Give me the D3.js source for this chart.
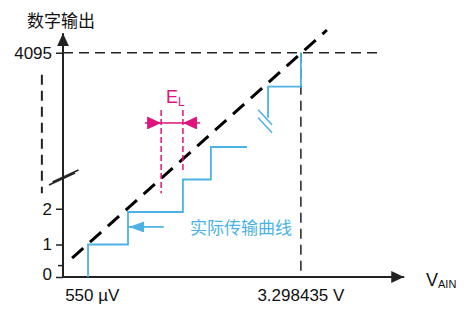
<!DOCTYPE html>
<html>
<head>
<meta charset="utf-8">
<script src="https://cdn.jsdelivr.net/npm/d3@7"></script>
<style>
  body { margin: 0; background: #fff; }
  text { font-family: "Liberation Sans", Arial, "Noto Sans CJK SC", sans-serif; }
</style>
</head>
<body>
<div id="chart"></div>
<script>
// schematic units: x in "input steps", y in "displayed code position"
var yTicks = [0, 1, 2.1, 6.9];
var yTickLabels = ["0", "1", "2", "4095"];
var yMinorTicks = [0.35];
var xTicks = [0.9, 7.32];
var xTickLabels = ["550 µV", "3.298435 V"];

// actual transfer curve, lower part and upper part (broken)
var stairLow = [[0.77, 0], [0.77, 1], [2.0, 1], [2.0, 2], [3.69, 2], [3.69, 3], [4.55, 3], [4.55, 4], [5.66, 4]];
var stairHigh = [[6.31, 4.9], [6.31, 5.86], [7.32, 5.86], [7.32, 6.9]];
// ideal line
var ideal = [[0.28, 0.58], [8.12, 7.6]];
// full scale point
var fullScale = [7.32, 6.9];
// E_L markers
var elX = [3.02, 3.69];
var elBottom = [2.58, 3.2];
// annotation arrow
var callout = [[3.1, 1.54], [2.03, 1.54]];

var width = 475, height = 322;
var svg = d3.select("#chart").append("svg")
  .attr("width", width)
  .attr("height", height);

var x = d3.scaleLinear().domain([0, 10.5]).range([63, 404.25]);
var y = d3.scaleLinear().domain([0, 7.5]).range([277, 33.25]);

var blue = "#4ab3e4";
var pink = "#df127e";
var dark = "#222";

var defs = svg.append("defs");
function marker(id, color, w, h) {
  defs.append("marker")
    .attr("id", id)
    .attr("viewBox", "0 0 " + w + " " + h)
    .attr("refX", w).attr("refY", h / 2)
    .attr("markerWidth", w).attr("markerHeight", h)
    .attr("markerUnits", "userSpaceOnUse")
    .attr("orient", "auto")
    .append("path")
    .attr("d", "M0,0L" + w + "," + h / 2 + "L0," + h + "Z")
    .attr("fill", color);
}
marker("axArrow", dark, 13, 12);
marker("blueArrow", blue, 15, 11);
marker("pinkArrow", pink, 14, 13);

var line = d3.line().x(function(d) { return x(d[0]); }).y(function(d) { return y(d[1]); });

// title
svg.append("text")
  .attr("x", 27).attr("y", 27)
  .attr("font-size", "17px")
  .attr("fill", "#111")
  .text("数字输出");

// dashed guides to full scale
svg.append("path")
  .attr("d", line([[0, fullScale[1]], [9.69, fullScale[1]]]))
  .attr("stroke", dark).attr("stroke-width", 1.5)
  .attr("stroke-dasharray", "10,6").attr("fill", "none");
svg.append("path")
  .attr("d", line([[fullScale[0], fullScale[1]], [fullScale[0], 0]]))
  .attr("stroke", dark).attr("stroke-width", 1.5)
  .attr("stroke-dasharray", "10,6").attr("fill", "none");

// left dashed vertical (scale break indicator)
svg.append("path")
  .attr("d", line([[-0.65, 6.22], [-0.65, 2.58]]))
  .attr("stroke", dark).attr("stroke-width", 2)
  .attr("stroke-dasharray", "10,6").attr("fill", "none");

// axes
svg.append("path")
  .attr("d", line([[0, 0], [0, 7.5]]))
  .attr("stroke", dark).attr("stroke-width", 2)
  .attr("marker-end", "url(#axArrow)");
svg.append("path")
  .attr("d", line([[0, 0], [10.5, 0]]))
  .attr("stroke", dark).attr("stroke-width", 2)
  .attr("marker-end", "url(#axArrow)");

// y ticks
var yAxis = d3.axisLeft(y).tickValues(yTicks)
  .tickFormat(function(d, i) { return yTickLabels[i]; })
  .tickSize(7).tickPadding(4);
var yg = svg.append("g").attr("transform", "translate(" + x(0) + ",0)").call(yAxis);
yg.select(".domain").remove();
yg.selectAll("line").attr("stroke", dark).attr("stroke-width", 1.5);
yg.selectAll("text").attr("font-size", "17px").attr("fill", "#111")
  .attr("font-family", "'Liberation Sans', Arial, sans-serif");
yg.selectAll(".tick").filter(function(d) { return d === 0; })
  .select("text").attr("dy", "0.15em");

svg.selectAll(".minor").data(yMinorTicks).enter().append("line")
  .attr("x1", x(0) - 5).attr("x2", x(0))
  .attr("y1", function(d) { return y(d); }).attr("y2", function(d) { return y(d); })
  .attr("stroke", dark).attr("stroke-width", 1.5);

// x tick labels
svg.selectAll(".xlab").data(xTicks).enter().append("text")
  .attr("x", function(d) { return x(d); })
  .attr("y", 301)
  .attr("text-anchor", "middle")
  .attr("font-size", "17px")
  .attr("fill", "#111")
  .text(function(d, i) { return xTickLabels[i]; });

// V_AIN
var vain = svg.append("text").attr("x", 426).attr("y", 286).attr("font-size", "18px").attr("fill", "#111");
vain.append("tspan").text("V");
vain.append("tspan").attr("font-size", "11px").attr("dy", 2).text("AIN");

// y axis break
[[0, 0], [3.5, -3]].forEach(function(o) {
  svg.append("line")
    .attr("x1", 49 + o[0]).attr("y1", 185 + o[1])
    .attr("x2", 75 + o[0]).attr("y2", 173 + o[1])
    .attr("stroke", dark).attr("stroke-width", 1.5);
});

// ideal line
svg.append("path")
  .attr("d", line(ideal))
  .attr("stroke", "#000").attr("stroke-width", 3)
  .attr("stroke-dasharray", "15,9").attr("fill", "none");

// actual staircase
svg.append("path")
  .attr("d", line(stairLow))
  .attr("stroke", blue).attr("stroke-width", 1.8).attr("fill", "none");
svg.append("path")
  .attr("d", line(stairHigh))
  .attr("stroke", blue).attr("stroke-width", 1.8).attr("fill", "none");

// staircase break marks
[0, 8].forEach(function(o) {
  svg.append("line")
    .attr("x1", x(6.31) - 10).attr("y1", y(4.9) - 8 + o)
    .attr("x2", x(6.31) + 4).attr("y2", y(4.9) + 7 + o)
    .attr("stroke", blue).attr("stroke-width", 1.5);
});

// annotation arrow and label
svg.append("path")
  .attr("d", line(callout))
  .attr("stroke", blue).attr("stroke-width", 1.8)
  .attr("marker-end", "url(#blueArrow)");
svg.append("text")
  .attr("x", 190).attr("y", 234)
  .attr("font-size", "17px")
  .attr("fill", blue)
  .text("实际传输曲线");

// E_L markers
elX.forEach(function(u, i) {
  svg.append("path")
    .attr("d", line([[u, 5.14], [u, elBottom[i]]]))
    .attr("stroke", pink).attr("stroke-width", 1.5)
    .attr("stroke-dasharray", "6,3").attr("fill", "none");
});
svg.append("path")
  .attr("d", line([[2.52, 4.74], [elX[0], 4.74]]))
  .attr("stroke", pink).attr("stroke-width", 1.5)
  .attr("marker-end", "url(#pinkArrow)");
svg.append("path")
  .attr("d", line([[4.22, 4.74], [elX[1], 4.74]]))
  .attr("stroke", pink).attr("stroke-width", 1.5)
  .attr("marker-end", "url(#pinkArrow)");
svg.append("path")
  .attr("d", line([[elX[0], 4.74], [elX[1], 4.74]]))
  .attr("stroke", pink).attr("stroke-width", 1.5);
var el = svg.append("text").attr("x", 166).attr("y", 103).attr("font-size", "18px").attr("fill", pink);
el.append("tspan").text("E");
el.append("tspan").attr("font-size", "12px").attr("dy", 3).text("L");
</script>
</body>
</html>
